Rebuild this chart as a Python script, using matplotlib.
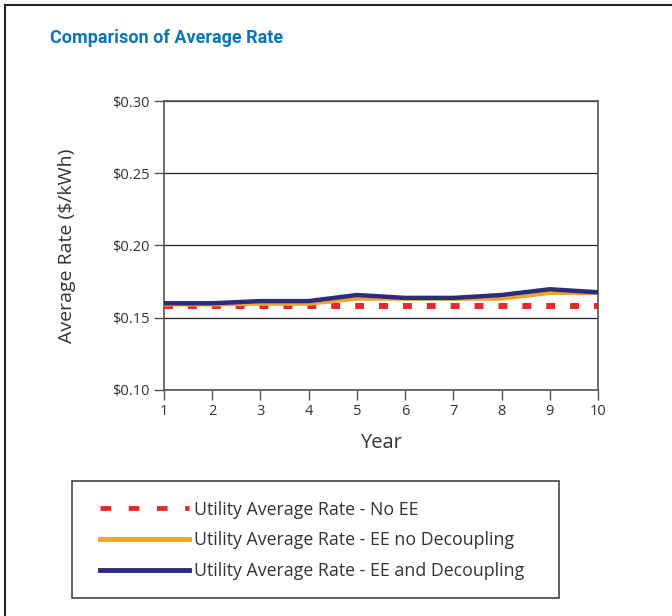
import matplotlib
matplotlib.use("Agg")
import matplotlib.pyplot as plt
from matplotlib.ticker import FuncFormatter
from matplotlib.lines import Line2D
from matplotlib.patches import Rectangle

# === DATA ===
years = [1, 2, 3, 4, 5, 6, 7, 8, 9, 10]
rate_no_ee = [0.158, 0.158, 0.158, 0.158, 0.158, 0.158, 0.158, 0.158, 0.158, 0.158]
rate_ee_no_decoupling = [0.159, 0.159, 0.1595, 0.1595, 0.163, 0.163, 0.163, 0.163, 0.167, 0.167]
rate_ee_decoupling = [0.160, 0.160, 0.1615, 0.1615, 0.1657, 0.1637, 0.1637, 0.1657, 0.1697, 0.1676]
series_labels = ["Utility Average Rate - No EE",
                 "Utility Average Rate - EE no Decoupling",
                 "Utility Average Rate - EE and Decoupling"]
y_ticks = [0.10, 0.15, 0.20, 0.25, 0.30]

# === STYLE ===
plt.rcParams["font.family"] = ["Open Sans", "DejaVu Sans"]
red = "#e8282b"
orange = "#f2a32c"
navy = "#2b2d7c"
text_col = "#333333"

fig = plt.figure(figsize=(6.72, 6.16), dpi=100, facecolor="white")
ax = fig.add_axes([0.244, 0.367, 0.646, 0.469])

ax.plot(years, rate_no_ee, color=red, linewidth=4.3, linestyle=(0, (1.5, 2.5)),
        solid_capstyle="butt", dash_capstyle="butt", zorder=3)
ax.plot(years, rate_ee_no_decoupling, color=orange, linewidth=2.6, zorder=4)
ax.plot(years, rate_ee_decoupling, color=navy, linewidth=3.2, zorder=5)

ax.set_xlim(1, 10)
ax.set_ylim(0.10, 0.30)
ax.set_xticks(years)
ax.set_yticks(y_ticks)
ax.yaxis.set_major_formatter(FuncFormatter(lambda v, p: f"${v:.2f}"))
ax.grid(axis="y", color="#222222", linewidth=0.9)
ax.set_axisbelow(True)
for s in ax.spines.values():
    s.set_color("#555555")
    s.set_linewidth(1.2)
ax.tick_params(axis="both", direction="out", length=7, width=1.0, color="#555555",
               labelsize=10.5, labelcolor=text_col, pad=3)
ax.set_xlabel("Year", fontsize=14.5, color=text_col, labelpad=10)
ax.set_ylabel("Average Rate ($/kWh)", fontsize=14, color=text_col, labelpad=26)

fig.text(0.074, 0.938, "Comparison of Average Rate", fontsize=13, fontweight="bold",
         color="#0b76b8", ha="left", va="center", family=["Roboto", "DejaVu Sans"])

# outer frame (left and top edges)
fig.add_artist(Line2D([0.0075, 0.0075], [0, 0.992], transform=fig.transFigure,
                      color="#222222", linewidth=1.5))
fig.add_artist(Line2D([0.0075, 1.0], [0.992, 0.992], transform=fig.transFigure,
                      color="#222222", linewidth=1.5))

# legend box
fig.add_artist(Rectangle((0.107, 0.0292), 0.7247, 0.190, transform=fig.transFigure,
                         facecolor="white", edgecolor="#444444", linewidth=1.2))

handles = [
    Line2D([], [], color=red, linewidth=3.5, linestyle=(0, (2.2, 3.6)), dash_capstyle="butt"),
    Line2D([], [], color=orange, linewidth=3.5),
    Line2D([], [], color=navy, linewidth=3.5),
]
leg = fig.legend(handles, series_labels, loc="center left",
                 bbox_to_anchor=(0.1488, 0.1226), frameon=False,
                 fontsize=12.8, handlelength=5.0, handletextpad=0.28,
                 borderpad=0, labelspacing=0.72, borderaxespad=0)
for t in leg.get_texts():
    t.set_color(text_col)

fig.savefig("out.png", dpi=100, facecolor="white")
